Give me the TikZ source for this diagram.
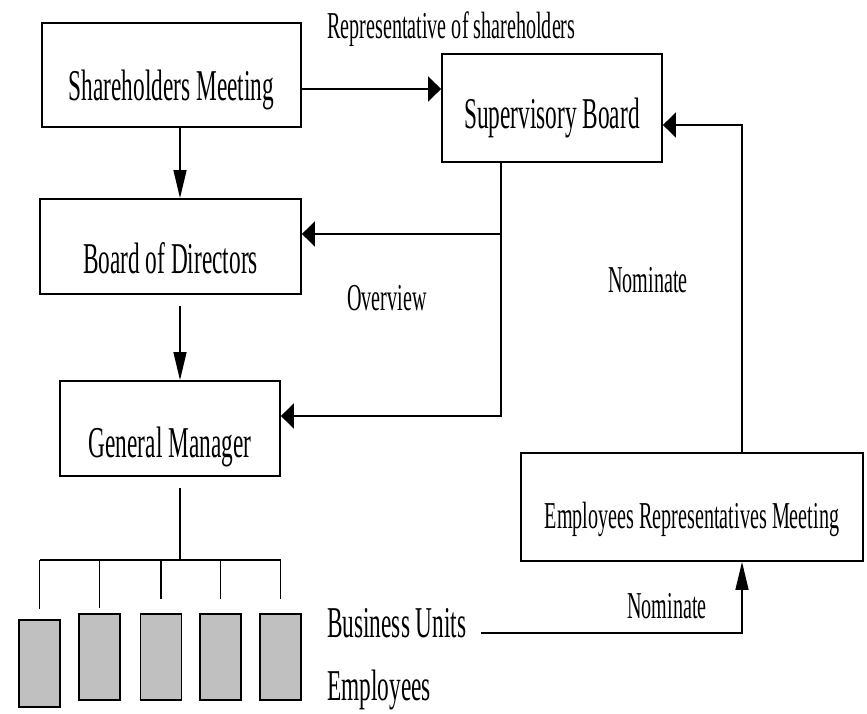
\documentclass[tikz,border=0pt]{standalone}
\usepackage{fontspec}
\setmainfont[FakeStretch=0.53]{Liberation Serif}
\usetikzlibrary{arrows.meta}
\definecolor{unitgray}{RGB}{192,192,192}
\newcommand\lowtext[2]{\raisebox{-#1}[\height][\depth]{#2}}
\begin{document}
\begin{tikzpicture}[x=1pt,y=-1pt,
  big/.style={font=\fontsize{44}{50}\selectfont},
  small/.style={font=\fontsize{38}{44}\selectfont},
  box/.style={draw, line width=1.8pt, rectangle, inner sep=0pt, big},
  unit/.style={draw, line width=1.8pt, fill=unitgray, minimum width=41pt, minimum height=86pt, inner sep=0pt},
  lbl/.style={anchor=base west, inner sep=0pt},
  hline/.style={line width=2.2pt},
  vline/.style={line width=1.4pt},
  harrow/.style={hline, -{Triangle[length=13pt,width=25pt]}},
  varrow/.style={vline, -{Triangle[length=28pt,width=13pt]}},
]
\useasboundingbox[fill=white] (0,0) rectangle (867,714);

% boxes
\node[box, minimum width=259pt, minimum height=104pt] (sm) at (171.5,75) {\lowtext{15pt}{Shareholders Meeting}};
\node[box, minimum width=220pt, minimum height=108pt] (sb) at (552,108) {\lowtext{10pt}{Supervisory Board}};
\node[box, minimum width=261pt, minimum height=95pt] (bod) at (170.5,246.5) {\lowtext{11.5pt}{Board of Directors}};
\node[box, minimum width=220pt, minimum height=95pt] (gm) at (170,428.5) {\lowtext{18pt}{General Manager}};
\node[box, small, minimum width=342pt, minimum height=108pt] (erm) at (692,507) {\lowtext{12pt}{Employees Representatives Meeting}};

% business units
\node[unit, minimum height=87pt] (u1) at (39.5,663.5) {};
\node[unit] (u2) at (99.5,657) {};
\node[unit] (u3) at (161,657) {};
\node[unit] (u4) at (220.5,657) {};
\node[unit] (u5) at (280.5,657) {};

% labels
\node[small, lbl] (rep) at (327,39) {Representative of shareholders};
\node[small, lbl] (ov) at (347,310) {Overview};
\node[small, lbl] (nom1) at (608,292) {Nominate};
\node[small, lbl] (nom2) at (627,618) {Nominate};
\node[big, lbl] (bu) at (327,637) {Business Units};
\node[big, lbl] (emp) at (327,700) {Employees};

% connectors
\coordinate (a1) at ([yshift=-14pt]sm.east);
\draw[harrow] (a1) -- (a1 -| sb.west);

\coordinate (a2) at ([xshift=8.5pt]sm.south);
\draw[varrow] (a2) -- (a2 |- bod.north);

\coordinate (a3) at ([xshift=9.5pt,yshift=-11pt]bod.south);
\draw[varrow] (a3) -- (a3 |- gm.north);

\coordinate (s0) at ([xshift=-51pt]sb.south);
\coordinate (c1) at ([yshift=12.5pt]bod.east);
\coordinate (c2) at ([yshift=12.5pt]gm.east);
\draw[vline] (s0) -- (s0 |- c2);
\draw[harrow, line cap=rect] (s0 |- c1) -- (c1);
\draw[harrow, line cap=rect] (s0 |- c2) -- (c2);

\coordinate (e1) at ([xshift=50pt]erm.north);
\coordinate (c3) at ([yshift=-17pt]sb.east);
\draw[vline] (e1) -- (e1 |- c3);
\draw[harrow, line cap=rect] (e1 |- c3) -- (c3);

\coordinate (bl) at (482,633);
\coordinate (e2) at ([xshift=50pt]erm.south);
\draw[hline, line cap=rect] (bl) -- (bl -| e2);
\draw[varrow] (bl -| e2) -- (e2);

\coordinate (g0) at ([xshift=10pt,yshift=-11pt]gm.south);
\coordinate (bus) at (180,560);
\draw[vline] (g0) -- (bus);
\draw[hline] (u1.north |- bus) -- (u5.north |- bus);
\draw[vline] (u1.north |- bus) -- ([yshift=10pt]u1.north);
\draw[vline] (u2.north |- bus) -- ([yshift=5pt]u2.north);
\draw[vline] (u3.north |- bus) -- ([yshift=14pt]u3.north);
\draw[vline] (u4.north |- bus) -- ([yshift=14pt]u4.north);
\draw[vline] (u5.north |- bus) -- ([yshift=14pt]u5.north);
\end{tikzpicture}
\end{document}
